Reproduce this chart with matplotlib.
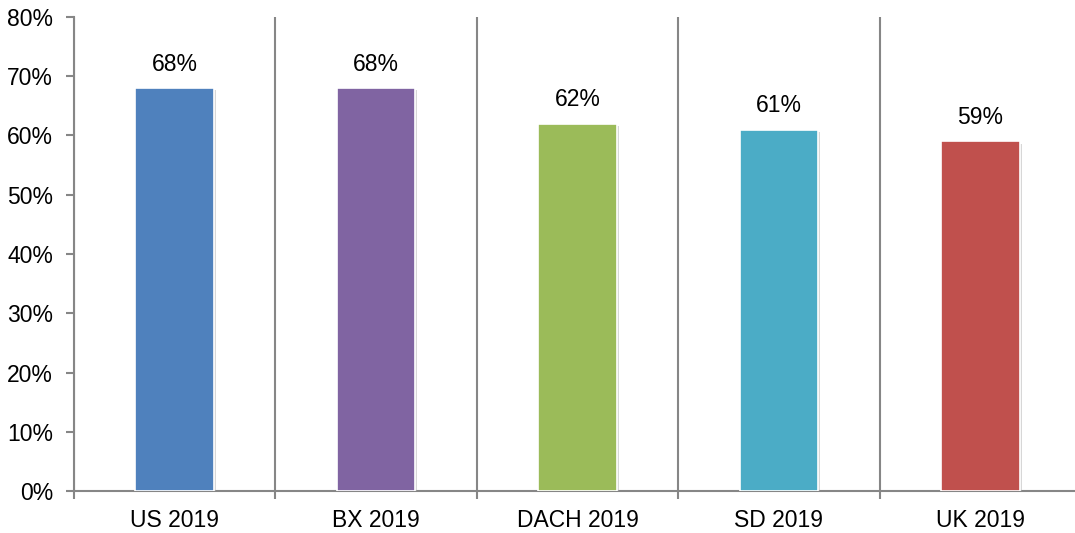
import numpy as np
import matplotlib.pyplot as plt
import matplotlib.patheffects as pe

categories = ['US 2019', 'BX 2019', 'DACH 2019', 'SD 2019', 'UK 2019']
values = [68, 68, 62, 61, 59]
colors = ['#4F81BD', '#8064A2', '#9BBB59', '#4BACC6', '#C0504D']
yticks = [0, 10, 20, 30, 40, 50, 60, 70, 80]

plt.rcParams['font.family'] = ['Liberation Sans', 'DejaVu Sans']
grey = '#868686'
fs = 16.5

fig = plt.figure(figsize=(10.75, 5.33), dpi=100)
ax = fig.add_axes([74/1075, 1 - 491/533, (1081 - 74)/1075, (491 - 17)/533])

x = np.arange(len(categories))
bars = ax.bar(x, values, width=0.39, color=colors, edgecolor='white', linewidth=1.2, zorder=3)
for b in bars:
    b.set_path_effects([pe.SimplePatchShadow(offset=(1.5, -1.5), shadow_rgbFace='#b0b0b0', alpha=0.5), pe.Normal()])

for xi, v in zip(x, values):
    ax.annotate(f'{v}%', (xi, v), xytext=(0, 9), textcoords='offset points',
                ha='center', va='bottom', fontsize=fs)

ax.set_xlim(-0.5, len(categories) - 0.5)
ax.set_ylim(0, 80)
ax.set_yticks(yticks)
ax.set_yticklabels([f'{t}%' for t in yticks], fontsize=fs)
ax.set_xticks(x)
ax.set_xticklabels(categories, fontsize=fs)
ax.set_xticks(np.arange(len(categories) + 1) - 0.5, minor=True)

ax.tick_params(axis='x', which='major', length=0, pad=13)
ax.tick_params(axis='x', which='minor', length=6, width=1.5, color=grey, direction='out')
ax.tick_params(axis='y', length=6, width=1.5, color=grey, direction='out', pad=9)

ax.grid(True, axis='x', which='minor', color=grey, linewidth=1.5, zorder=0)
ax.spines['top'].set_visible(False)
ax.spines['right'].set_visible(False)
for s in ['left', 'bottom']:
    ax.spines[s].set_color(grey)
    ax.spines[s].set_linewidth(1.5)

fig.savefig('out.png', dpi=100)
